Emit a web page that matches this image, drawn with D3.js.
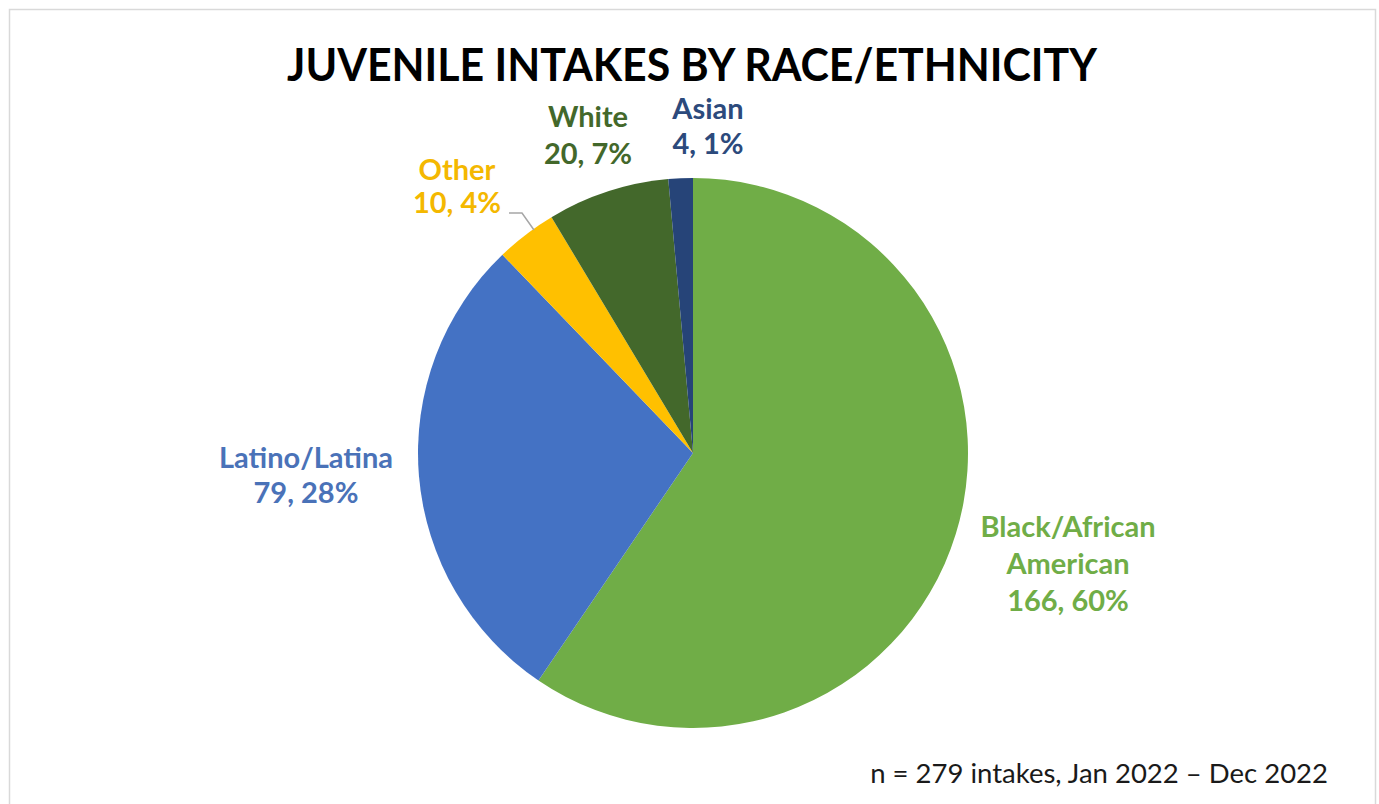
<!DOCTYPE html>
<html>
<head>
<meta charset="utf-8">
<script src="https://cdn.jsdelivr.net/npm/d3@7"></script>
<style>
  body { margin: 0; background: #fff; }
  svg { display: block; font-family: Lato, "Open Sans", sans-serif; }
</style>
</head>
<body>
<svg width="1379" height="804"></svg>
<script>
// Data
const categories = ['Black/African American', 'Latino/Latina', 'Other', 'White', 'Asian']
const counts = [166, 79, 10, 20, 4]
const percents = ['60%', '28%', '4%', '7%', '1%']
const colors = ['#70ad47', '#4472c4', '#ffc000', '#43682b', '#264478']
const labelColors = ['#70ad47', '#4a72b8', '#f4b800', '#43682b', '#2c4a7c']
// label lines (name split as in the picture)
const labelLines = [
    ['Black/African', 'American'],
    ['Latino/Latina'],
    ['Other'],
    ['White'],
    ['Asian']
]
// label anchor points (centre x, first baseline y) and line spacing
const labelPos = [[1068, 537], [306, 468], [457, 180], [588, 127], [708, 119]]
const labelStep = [37, 35, 33, 37, 35]

// Set up
const svg = d3.select('svg')

svg.append('rect')
    .attr('x', 9.5).attr('y', 9.5)
    .attr('width', 1366).attr('height', 810)
    .attr('fill', '#fff')
    .attr('stroke', '#d9d9d9')
    .attr('stroke-width', 1.5)

svg.append('text')
    .attr('x', 692).attr('y', 81)
    .attr('text-anchor', 'middle')
    .attr('font-size', 45)
    .attr('font-weight', 'bold')
    .attr('fill', '#000')
    .attr('textLength', 810)
    .attr('lengthAdjust', 'spacingAndGlyphs')
    .text('JUVENILE INTAKES BY RACE/ETHNICITY')

const cx = 693, cy = 453, r = 275

const pie = d3.pie().sort(null).value(d => d)
const arc = d3.arc().innerRadius(0).outerRadius(r)

const g = svg.append('g').attr('transform', `translate(${cx},${cy})`)

g.selectAll('path')
    .data(pie(counts))
    .join('path')
    .attr('d', arc)
    .attr('fill', (d, i) => colors[i])

// leader line for "Other"
svg.append('polyline')
    .attr('points', '509,213 522,213 534,230')
    .attr('fill', 'none')
    .attr('stroke', '#a6a6a6')
    .attr('stroke-width', 1.5)

svg.selectAll('text.label')
    .data(categories)
    .join('text')
    .attr('class', 'label')
    .attr('text-anchor', 'middle')
    .attr('font-size', 29)
    .attr('font-weight', 'bold')
    .attr('fill', (d, i) => labelColors[i])
    .each(function (d, i) {
        const lines = labelLines[i].concat([`${counts[i]}, ${percents[i]}`])
        d3.select(this).selectAll('tspan')
            .data(lines)
            .join('tspan')
            .attr('x', labelPos[i][0])
            .attr('y', (l, j) => labelPos[i][1] + j * labelStep[i])
            .text(l => l)
    })

svg.append('text')
    .attr('x', 1328).attr('y', 783)
    .attr('text-anchor', 'end')
    .attr('font-size', 27.5)
    .attr('fill', '#1a1a1a')
    .text('n = 279 intakes, Jan 2022 \u2013 Dec 2022')
</script>
</body>
</html>
